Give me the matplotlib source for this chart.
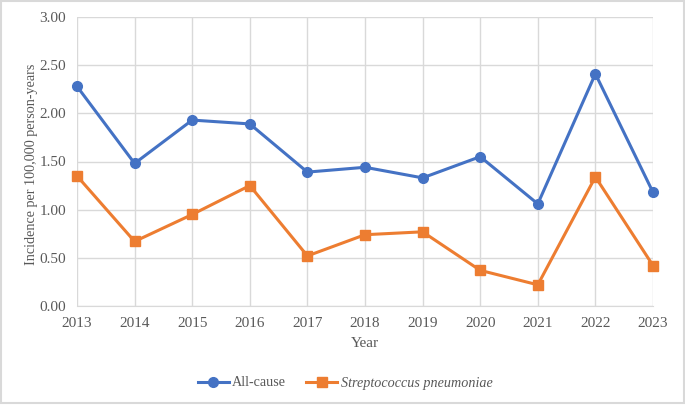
import matplotlib.pyplot as plt
from matplotlib.patches import Rectangle

plt.rcParams['font.family'] = ['Liberation Serif', 'DejaVu Serif']

years = [2013, 2014, 2015, 2016, 2017, 2018, 2019, 2020, 2021, 2022, 2023]
all_cause = [2.28, 1.48, 1.93, 1.89, 1.39, 1.44, 1.33, 1.55, 1.06, 2.41, 1.18]
strep = [1.35, 0.67, 0.95, 1.25, 0.52, 0.74, 0.77, 0.37, 0.22, 1.34, 0.42]
yticks = [0.0, 0.5, 1.0, 1.5, 2.0, 2.5, 3.0]

fig = plt.figure(figsize=(6.85, 4.05), dpi=100)
ax = fig.add_axes([77 / 685, 1 - 306 / 405, (653 - 77) / 685, (306 - 17) / 405])

ax.plot(years, all_cause, color='#4472C4', lw=2.2, marker='o', ms=7, label='All-cause',
        clip_on=False, zorder=3)
ax.plot(years, strep, color='#ED7D31', lw=2.2, marker='s', ms=7,
        label='Streptococcus pneumoniae', clip_on=False, zorder=3)

ax.set_xlim(2013, 2023)
ax.set_ylim(0, 3)
ax.set_xticks(years)
ax.set_yticks(yticks)
ax.set_yticklabels([f'{v:.2f}' for v in yticks])
ax.grid(True, color='#d9d9d9', lw=1)
ax.set_axisbelow(True)
for s in ax.spines.values():
    s.set_visible(False)
ax.spines['bottom'].set_visible(True)
ax.spines['bottom'].set_color('#d9d9d9')
ax.tick_params(length=0, labelsize=11, labelcolor='#595959', pad=8)

ax.set_xlabel('Year', fontsize=11, color='#595959', labelpad=5)
ax.set_ylabel('Incidence per 100,000 person-years', fontsize=10.2, color='#595959')
ax.yaxis.set_label_coords(-0.068, 0.49)

leg = fig.legend(loc='center', bbox_to_anchor=(345 / 685, 1 - 383 / 405), ncol=2,
                 frameon=False, fontsize=10.2, handlelength=2.2, handletextpad=0.25,
                 columnspacing=1.4)
for t in leg.get_texts():
    t.set_color('#595959')
leg.get_texts()[1].set_style('italic')

fig.patches.append(Rectangle((0.002, 0.004), 0.996, 0.993, transform=fig.transFigure,
                             fill=False, edgecolor='#d9d9d9', lw=1.5))

fig.savefig('out.png', dpi=100)
